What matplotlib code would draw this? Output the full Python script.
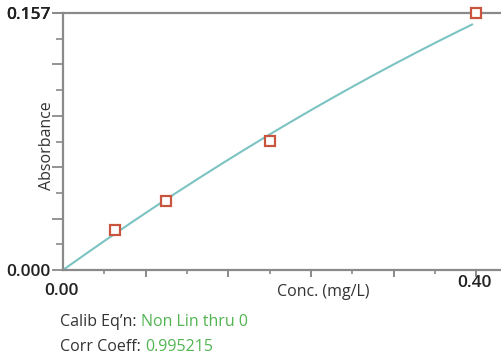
import numpy as np
import matplotlib
matplotlib.use("Agg")
import matplotlib.pyplot as plt

plt.rcParams['font.family'] = ['Open Sans', 'DejaVu Sans']

# Calibration standards: [conc (mg/L), absorbance]
conc = [0.05, 0.10, 0.20, 0.40]
absorb = [0.0245, 0.0422, 0.0790, 0.1570]

# Non-linear through zero fit, y = a*x + b*x^2 (coefficients)
fit_a, fit_b = 0.450, -0.180
fit_xmax = 0.396

calib_eqn = "Non Lin thru 0"
corr_coeff = "0.995215"

y_top = 0.157
x_label_ticks = [0.00, 0.40]

fig = plt.figure(figsize=(5.01, 3.60), dpi=100)
ax = fig.add_axes([63 / 501, 90 / 360, 1 - 63 / 501, 257 / 360])

x_fit = np.linspace(0, fit_xmax, 200)
ax.plot(x_fit, fit_a * x_fit + fit_b * x_fit ** 2, color="#7cc3c3", lw=1.5, zorder=2)
ax.plot(conc, absorb, linestyle="none", marker="s", markersize=6.5,
        markerfacecolor="white", markeredgecolor="#c9553f", markeredgewidth=1.6,
        zorder=3, clip_on=False)

ax.set_xlim(0, 0.424)
ax.set_ylim(0, y_top)

spine_col = "#8a8a8a"
for side in ["left", "bottom", "top"]:
    ax.spines[side].set_color(spine_col)
    ax.spines[side].set_linewidth(1.6)
ax.spines["right"].set_visible(False)

# y ticks: every tenth of the range, longer on even steps
y_steps = np.linspace(0, y_top, 11)
ax.set_yticks(y_steps[0::2].tolist() + [y_top])
ax.set_yticks(y_steps[1::2], minor=True)
ax.set_yticklabels(["0.000", "", "", "", "", "", "0.157"])
ax.tick_params(axis="y", which="major", length=8, width=1.3, color=spine_col,
               pad=1, labelsize=12.5, labelcolor="#222222")
ax.tick_params(axis="y", which="minor", length=5, width=1.2, color=spine_col)
for lbl in ax.get_yticklabels():
    lbl.set_fontweight("semibold")

# x ticks every 0.04, longer every 0.08
ax.set_xticks(np.arange(0.08, 0.41, 0.08))
ax.set_xticks(np.arange(0.04, 0.42, 0.08), minor=True)
ax.set_xticklabels([])
ax.tick_params(axis="x", which="major", length=5, width=1.4, color=spine_col)
ax.tick_params(axis="x", which="minor", length=3, width=1.2, color=spine_col)

for xv, dy in zip(x_label_ticks, [-15, -9.5]):
    ax.annotate(f"{xv:.2f}", xy=(xv, 0), xycoords="data",
                xytext=(-1, dy), textcoords="offset points",
                ha="center", va="center", fontsize=12.5, fontweight="semibold", color="#222222")

ax.text(0.594, -0.085, "Conc. (mg/L)", transform=ax.transAxes, ha="center", va="center",
        fontsize=11.5, color="#333333")
ax.text(-0.036, 0.485, "Absorbance", transform=ax.transAxes, rotation=90,
        ha="center", va="center", fontsize=11.5, color="#333333")

green = "#52b552"
dark = "#333333"
t1 = fig.text(60 / 501, 1 - 322 / 360, "Calib Eq\u2019n: ", fontsize=11.5, color=dark,
              ha="left", va="center")
t2 = fig.text(60 / 501, 1 - 347 / 360, "Corr Coeff: ", fontsize=11.5, color=dark,
              ha="left", va="center")
fig.canvas.draw()
r = fig.canvas.get_renderer()
for t, val in [(t1, calib_eqn), (t2, corr_coeff)]:
    bb = t.get_window_extent(r)
    fig.text(bb.x1 / fig.bbox.width, t.get_position()[1], val, fontsize=11.5,
             color=green, ha="left", va="center")

fig.savefig("out.png", dpi=100)
